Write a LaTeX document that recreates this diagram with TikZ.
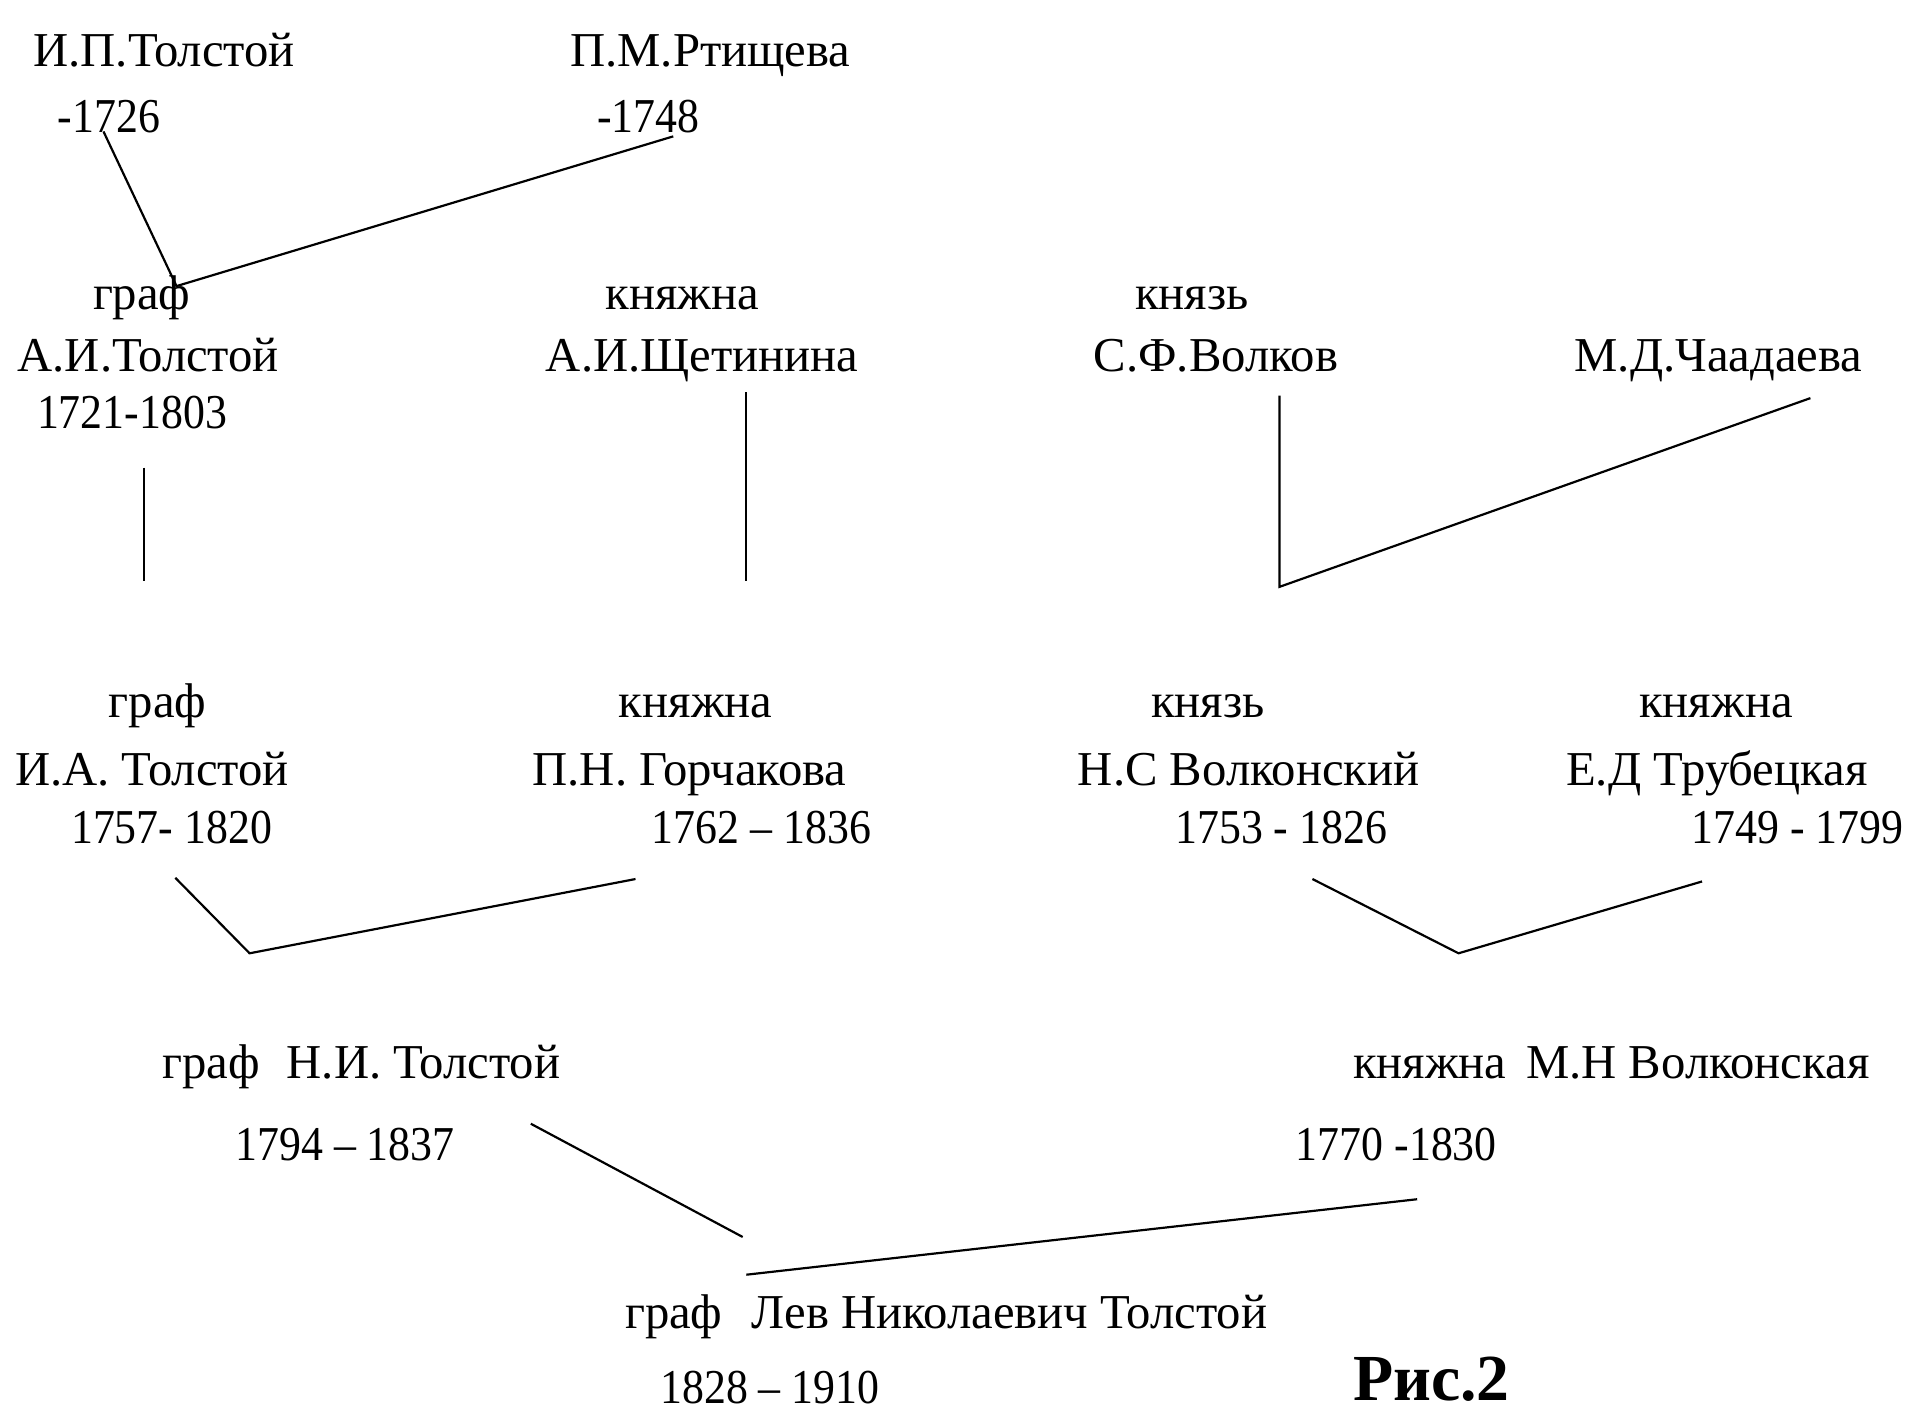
\documentclass[tikz,border=0pt]{standalone}
\usepackage{fontspec}
\setmainfont{Liberation Serif}
\newfontfamily\condfont[FakeStretch=0.9]{Liberation Serif}
\begin{document}
\begin{tikzpicture}[x=0.5pt,y=-0.5pt,
  lbl/.style={anchor=base west,inner sep=0pt,font=\fontsize{20}{24}\selectfont},
  yrs/.style={lbl,font=\condfont\fontsize{20}{24}\selectfont},
  link/.style={line width=0.9pt,line join=miter}]
\useasboundingbox (0,0) rectangle (1568,1162);
\fill[white] (0,0) rectangle (1568,1162);
% generation 1
\node[lbl] (ipt) at (27,55) {И.П.Толстой};
\node[yrs] (iptd) at (47,109) {-1726};
\node[lbl] (pmr) at (468,55) {П.М.Ртищева};
\node[yrs] (pmrd) at (490,109) {-1748};
% generation 2
\node[lbl] (aitt) at (76,254) {граф};
\node[lbl] (ait) at (14,305) {А.И.Толстой};
\node[yrs] (aitd) at (30,352) {1721-1803};
\node[lbl] (aist) at (497,254) {княжна};
\node[lbl] (ais) at (448,305) {А.И.Щетинина};
\node[lbl] (sfvt) at (932,254) {князь};
\node[lbl] (sfv) at (898,305) {С.Ф.Волков};
\node[lbl] (mdc) at (1293,305) {М.Д.Чаадаева};
% generation 3
\node[lbl] (iatt) at (89,589) {граф};
\node[lbl] (iat) at (12,645) {И.А. Толстой};
\node[yrs] (iatd) at (58,693) {1757- 1820};
\node[lbl] (pngt) at (508,589) {княжна};
\node[lbl] (png) at (437,645) {П.Н. Горчакова};
\node[yrs] (pngd) at (535,693) {1762 – 1836};
\node[lbl] (nsvt) at (945,589) {князь};
\node[lbl] (nsv) at (885,645) {Н.С Волконский};
\node[yrs] (nsvd) at (965,693) {1753 - 1826};
\node[lbl] (edtt) at (1346,589) {княжна};
\node[lbl] (edt) at (1286,645) {Е.Д Трубецкая};
\node[yrs] (edtd) at (1389,693) {1749 - 1799};
% generation 4
\node[lbl] (nit) at (133,886) {граф\hspace{0.55em}Н.И. Толстой};
\node[yrs] (nitd) at (193,953) {1794 – 1837};
\node[lbl] (mnv) at (1111,886) {княжна\hspace{0.4em}М.Н Волконская};
\node[yrs] (mnvd) at (1064,953) {1770 -1830};
% generation 5
\node[lbl] (lnt) at (513,1091) {граф\hspace{0.6em}Лев Николаевич Толстой};
\node[yrs] (lntd) at (542,1153) {1828 – 1910};
\node[lbl,font=\bfseries\fontsize{27}{30}\selectfont] (fig) at (1111,1150) {Рис.2};
% connector points
\coordinate (a1) at (85,108);
\coordinate (a2) at (145,235);
\coordinate (a3) at (553,112);
\coordinate (b1) at (118,384);
\coordinate (b2) at (118,477);
\coordinate (c1) at (613,322);
\coordinate (c2) at (613,477);
\coordinate (d1) at (1051,325);
\coordinate (d2) at (1051,482);
\coordinate (d3) at (1487,327);
\coordinate (e1) at (144,721);
\coordinate (e2) at (205,783);
\coordinate (e3) at (522,722);
\coordinate (f1) at (1078,722);
\coordinate (f2) at (1198,783);
\coordinate (f3) at (1398,724);
\coordinate (g1) at (436,923);
\coordinate (g2) at (610,1016);
\coordinate (h1) at (613,1047);
\coordinate (h2) at (1164,985);
% connectors
\draw[link] (a1) -- (a2) -- (a3);
\draw[link] (b1) -- (b2);
\draw[link] (c1) -- (c2);
\draw[link] (d1) -- (d2) -- (d3);
\draw[link] (e1) -- (e2) -- (e3);
\draw[link] (f1) -- (f2) -- (f3);
\draw[link] (g1) -- (g2);
\draw[link] (h1) -- (h2);
\end{tikzpicture}
\end{document}
